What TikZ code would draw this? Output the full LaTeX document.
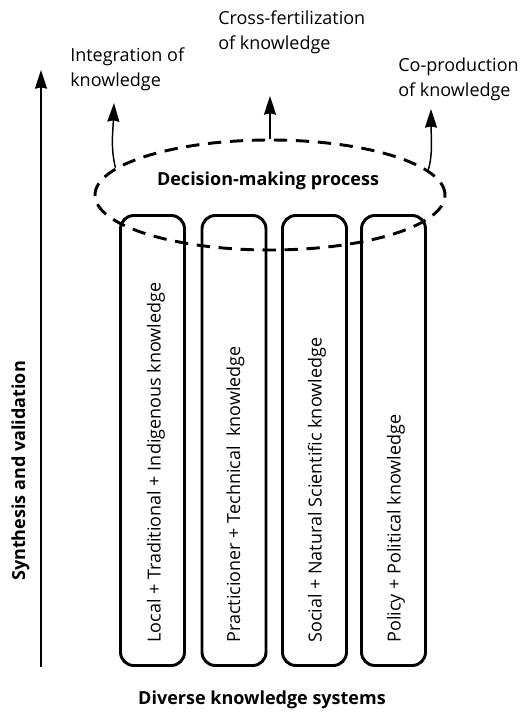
\documentclass[tikz,border=0pt]{standalone}
\usepackage{fontspec}
\setmainfont{Open Sans}
\usetikzlibrary{arrows.meta,shapes.geometric,positioning}

\tikzset{
  pillar/.style={draw, line width=2.2pt, rounded corners=10pt, minimum width=48pt, minimum height=337.5pt, inner sep=0pt},
  pillartext/.style={rotate=90, anchor=base west, inner sep=0pt, font=\fontsize{13.5}{18}\selectfont},
  outcome/.style={align=left, anchor=north west, inner sep=0pt, font=\fontsize{13.5}{18.75}\selectfont},
  boldtext/.style={inner sep=0pt, font=\fontsize{13.5}{18}\selectfont\bfseries},
  flow/.style={line width=1.1pt, -{Stealth[length=14pt,width=9pt,inset=1pt]}},
  process/.style={draw, ellipse, line width=2.2pt, dash pattern=on 10pt off 6.5pt, minimum width=262.5pt, minimum height=82.5pt, inner sep=0pt},
}

\begin{document}
\begin{tikzpicture}[x=0.75pt, y=-0.75pt]
	\useasboundingbox (0,0) rectangle (520,712);
	
	% vertical axis
	\coordinate (axbot) at (41,667);
	\coordinate (axtop) at (41,70);
	\draw[flow] (axbot) -- (axtop);
	\node[boldtext, rotate=90, anchor=base] (synth) at (25,471) {Synthesis and validation};
	
	% knowledge systems
	\node[pillar] (local) at (152.5,440.5) {};
	\node[pillar] (practice) at (234,440.5) {};
	\node[pillar] (science) at (314.5,440.5) {};
	\node[pillar] (policy) at (393.5,440.5) {};
	
	\node[pillartext] (localtext) at ([shift={(8,-24)}]local.south) {Local + Traditional + Indigenous knowledge};
	\node[pillartext] (practicetext) at ([shift={(6,-24)}]practice.south) {Practicioner + Technical\ \ knowledge};
	\node[pillartext] (sciencetext) at ([shift={(7,-24)}]science.south) {Social + Natural Scientific knowledge};
	\node[pillartext] (policytext) at ([shift={(7,-24)}]policy.south) {Policy + Political knowledge};
	
	\node[boldtext, anchor=base] (diverse) at (262,704) {Diverse knowledge systems};
	
	% decision-making process
	\node[process] (dm) at (270,195) {};
	\node[boldtext, anchor=base] (dmtext) at (268,186) {Decision-making process};
	
	% outcomes
	\node[outcome] (intg) at (70,47) {Integration of\\knowledge};
	\node[outcome] (cross) at (218,10) {Cross-fertilization\\of knowledge};
	\node[outcome] (coprod) at (398,58) {Co-production\\of knowledge};
	
	\coordinate (intgtip) at (114,103);
	\coordinate (crosstip) at (270,96);
	\coordinate (coprodtip) at (431,109);
	
	\draw[flow] (dm.170) .. controls +(-5,-20) and +(-1,28) .. (intgtip);
	\draw[flow] (dm.north) -- (crosstip);
	\draw[flow] (dm.9) .. controls +(5,-15) and +(0,25) .. (coprodtip);
\end{tikzpicture}
\end{document}
